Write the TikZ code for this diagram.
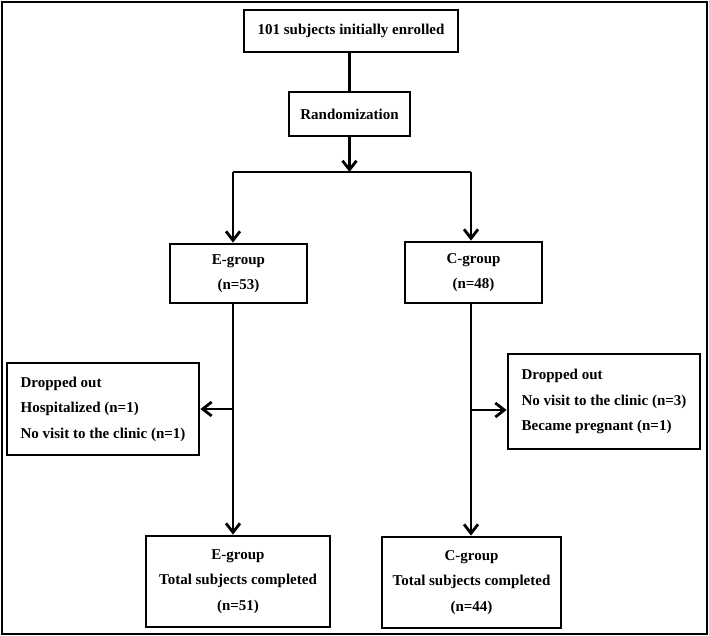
\documentclass[tikz,border=0pt]{standalone}
\usepackage{fontspec}
\setmainfont{Liberation Serif}
\usetikzlibrary{arrows.meta}

\begin{document}
\begin{tikzpicture}[x=1pt,y=-1pt,
		box/.style={draw,line width=2.8pt,align=center,inner sep=0pt,font=\bfseries\fontsize{15}{25.5}\selectfont},
		dropbox/.style={box,align=left},
		link/.style={line width=2.8pt},
		arr/.style={link,-{Straight Barb[length=9pt,width=14pt]}}]
		\useasboundingbox (0,0) rectangle (709,636);
		\draw[line width=1.8pt] (2,2) rectangle (707,634);

		\node[box,minimum width=214pt,minimum height=42pt] (enrolled) at (351,31) {101 subjects initially enrolled};
		\node[box,minimum width=121pt,minimum height=44pt] (rand) at (349.5,114) {Randomization};

		\node[box,minimum width=137pt,minimum height=59pt] (egrp) at (238.5,273.5) {E-group\\(n=53)};
		\node[box,minimum width=137pt,minimum height=61pt] (cgrp) at (473.5,272.5) {C-group\\(n=48)};

		\node[dropbox,minimum width=192pt,minimum height=92pt] (ldrop) at (103,409) {Dropped out\\Hospitalized (n=1)\\No visit to the clinic (n=1)};
		\node[dropbox,minimum width=192pt,minimum height=95pt] (rdrop) at (604,401.5) {Dropped out\\No visit to the clinic (n=3)\\Became pregnant (n=1)};

		\node[box,minimum width=184pt,minimum height=91pt] (efin) at (238,581.5) {E-group\\Total subjects completed\\(n=51)};
		\node[box,minimum width=179pt,minimum height=91pt] (cfin) at (471.5,582.5) {C-group\\Total subjects completed\\(n=44)};

		% split points
		\coordinate (sl) at (233,172);
		\coordinate (sr) at (471,172);
		\coordinate (lj) at (233,409);
		\coordinate (rj) at (471,410);

		\draw[link] (rand.north) -- (rand.north |- enrolled.south);
		\draw[arr] (rand.south) -- (rand.south |- sl);
		\draw[link] (sl) -- (sr);
		\draw[arr] (sl) -- (sl |- egrp.north);
		\draw[arr] (sr) -- (sr |- cgrp.north);

		\draw[arr] (sl |- egrp.south) -- (sl |- efin.north);
		\draw[arr] (sr |- cgrp.south) -- (sr |- cfin.north);
		\draw[arr] (lj) -- (ldrop.east);
		\draw[arr] (rj) -- (rdrop.west |- rj);
	\end{tikzpicture}
\end{document}
